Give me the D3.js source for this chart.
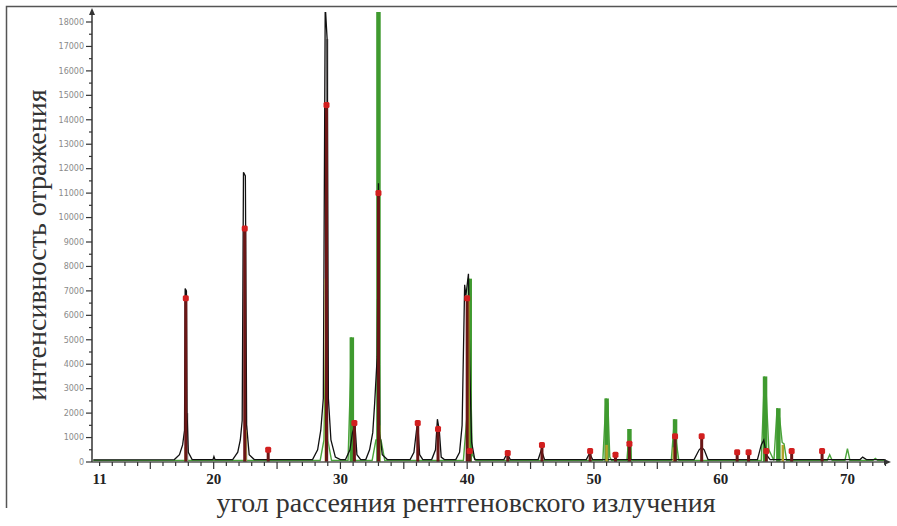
<!DOCTYPE html>
<html>
<head>
<meta charset="utf-8">
<script src="https://cdn.jsdelivr.net/npm/d3@7/dist/d3.min.js"></script>
<style>
  body { margin: 0; background: #fff; }
  svg { display: block; }
</style>
</head>
<body>
<svg id="chart" width="897" height="526"></svg>
<script>
// x ticks that carry labels, y ticks
var x_labels = [11, 20, 30, 40, 50, 60, 70];
var y_labels = d3.range(0, 18001, 1000);

// measured profile (black line): [angle, intensity]
var black_profile = [
	[10.5,90],[16.9,100],[17.3,300],[17.55,700],[17.7,1300],[17.75,7100],[17.85,7000],[17.9,2000],[18.0,400],[18.3,100],
	[19.95,100],[20.02,220],[20.1,100],
	[21.5,100],[21.9,400],[22.1,900],[22.25,1700],[22.35,11850],[22.5,11700],[22.6,1500],[22.8,300],[23.2,100],
	[27.8,100],[28.2,500],[28.45,1300],[28.65,2600],[28.8,18700],[28.95,17300],[29.05,2600],[29.25,900],[29.6,200],[30.0,100],
	[30.4,100],[30.75,500],[30.95,1200],[31.15,1500],[31.3,300],[31.6,100],
	[32.0,100],[32.3,500],[32.55,1200],[32.7,2400],[32.9,4300],[33.0,11400],[33.1,1200],[33.3,300],[33.7,100],
	[35.5,100],[35.8,400],[36.0,1300],[36.1,1600],[36.25,300],[36.5,100],
	[37.2,100],[37.5,500],[37.65,1750],[37.8,1300],[37.95,200],[38.2,100],
	[39.1,100],[39.4,400],[39.6,1500],[39.8,7250],[39.9,6800],[40.1,7700],[40.2,4000],[40.35,800],[40.6,100],
	[42.9,100],[43.15,350],[43.4,100],
	[45.6,100],[45.85,500],[46.1,100],
	[49.4,100],[49.65,350],[49.9,100],
	[57.9,100],[58.3,500],[58.5,600],[58.7,500],[59.0,100],
	[62.9,100],[63.2,700],[63.4,900],[63.6,300],[63.9,100],
	[71.0,100],[71.2,200],[71.5,100],[73.0,100]
];

// second pattern (green line)
var green_profile = [
	[10.5,60],[28.4,60],[28.7,900],[28.85,5300],[29.0,900],[29.3,60],
	[30.6,60],[30.8,3500],[30.85,5100],[30.95,3500],[31.05,200],[31.2,60],
	[32.5,60],[32.8,900],[33.2,900],[33.5,60],
	[39.7,60],[40.0,2000],[40.15,7500],[40.25,4100],[40.4,300],[40.7,60],
	[50.7,60],[50.95,2600],[51.1,2400],[51.25,200],[51.4,60],
	[52.6,60],[52.8,1350],[52.95,100],[53.1,60],
	[56.1,60],[56.35,1750],[56.5,800],[56.7,60],
	[63.2,60],[63.45,3500],[63.6,2700],[63.8,500],[64.2,60],[64.45,2200],[64.65,1800],[64.85,800],[65.0,740],[65.2,60],
	[68.4,60],[68.6,300],[68.8,60],[69.8,60],[70.0,550],[70.2,60],
	[72.0,60],[72.2,150],[72.4,60],[73.0,60]
];

// stick patterns of the phases
var green_sticks = [[33.0, 18700], [30.9, 5100], [40.2, 7500], [51.0, 2600], [52.8, 1350], [56.4, 1750], [63.5, 3500], [64.55, 2200]];
var gray_sticks = [[17.9, 2000], [28.95, 17300], [22.55, 1500]];
var olive_sticks = [[28.85, 7500], [22.5, 1300], [17.8, 600], [33.05, 1500], [40.1, 6800], [51.0, 700], [52.8, 700], [56.3, 600], [64.9, 700]];
var red_sticks = [
	[17.8, 6700], [22.45, 9550], [28.9, 14600], [33.0, 11000], [31.1, 1600], [36.1, 1600], [37.7, 1350], [40.0, 6700],
	[24.3, 500], [43.2, 370], [45.9, 700], [49.7, 450], [51.7, 300], [52.8, 750], [56.4, 1050], [58.5, 1050],
	[61.3, 400], [62.2, 400], [63.6, 450], [65.6, 450], [68.0, 450], [40.2, 450]
];

var svg = d3.select('#chart');

var x = d3.scaleLinear().domain([10.4, 73.2]).range([92, 888]);
var y = d3.scaleLinear().domain([0, 18000]).range([462, 22]);

// frame (left and top only)
svg.append('path')
	.attr('d', 'M6.5,508 V6.5 H897')
	.attr('fill', 'none')
	.attr('stroke', '#555')
	.attr('stroke-width', 1.5);

svg.append('clipPath').attr('id', 'plot-clip')
	.append('rect').attr('x', 92).attr('y', 12).attr('width', 796).attr('height', 452);

var plot = svg.append('g').attr('clip-path', 'url(#plot-clip)');

var line = d3.line()
	.x(function(d) { return x(d[0]); })
	.y(function(d) { return y(d[1]); });

plot.append('path')
	.datum(green_profile)
	.attr('d', line)
	.attr('fill', 'none')
	.attr('stroke', '#4aa33a')
	.attr('stroke-width', 1.4);

function draw_sticks(data, width, color){
	plot.append('g').selectAll('rect')
	.data(data)
	.enter().append('rect')
	.attr('x', function(d) { return x(d[0]) - width / 2; })
	.attr('y', function(d) { return y(d[1]); })
	.attr('width', width)
	.attr('height', function(d) { return y(0) - y(d[1]); })
	.attr('fill', color);
}

draw_sticks(green_sticks, 4.5, '#3f9a2f');
draw_sticks(gray_sticks, 2.5, '#a09a9a');

plot.append('path')
	.datum(black_profile)
	.attr('d', line)
	.attr('fill', 'none')
	.attr('stroke', '#111')
	.attr('stroke-width', 1.3);

draw_sticks(olive_sticks, 2.5, '#b3a22a');
draw_sticks(red_sticks, 3, '#6a1616');

plot.append('g').selectAll('rect')
	.data(red_sticks)
	.enter().append('rect')
	.attr('x', function(d) { return x(d[0]) - 3; })
	.attr('y', function(d) { return y(d[1]) - 3; })
	.attr('width', 6)
	.attr('height', 6)
	.attr('rx', 1.5)
	.attr('fill', '#d21f1f');

// y axis
var y_axis = svg.append('g').attr('class', 'y-axis');
y_axis.append('line')
	.attr('x1', 92).attr('x2', 92).attr('y1', y(0)).attr('y2', 12)
	.attr('stroke', '#333').attr('stroke-width', 1.5);
y_axis.append('path')
	.attr('d', 'M92,8 L89,15 L95,15 Z')
	.attr('fill', '#333');
y_axis.selectAll('line.minor')
	.data(d3.range(500, 18000, 1000))
	.enter().append('line')
	.attr('class', 'minor')
	.attr('x1', 89).attr('x2', 92)
	.attr('y1', function(d) { return y(d); }).attr('y2', function(d) { return y(d); })
	.attr('stroke', '#333').attr('stroke-width', 1.2);
y_axis.selectAll('line.major')
	.data(y_labels)
	.enter().append('line')
	.attr('class', 'major')
	.attr('x1', 86).attr('x2', 92)
	.attr('y1', function(d) { return y(d); }).attr('y2', function(d) { return y(d); })
	.attr('stroke', '#333').attr('stroke-width', 1.2);
y_axis.selectAll('text')
	.data(y_labels)
	.enter().append('text')
	.attr('x', 84)
	.attr('y', function(d) { return y(d); })
	.attr('dy', '0.35em')
	.attr('text-anchor', 'end')
	.attr('font-family', 'DejaVu Sans')
	.attr('font-size', 8)
	.attr('fill', '#8a8a8a')
	.text(function(d) { return d; });

// x axis
var x_axis = svg.append('g').attr('class', 'x-axis');
x_axis.append('line')
	.attr('x1', 92).attr('x2', 886).attr('y1', y(0)).attr('y2', y(0))
	.attr('stroke', '#555').attr('stroke-width', 1.6);
x_axis.append('path')
	.attr('d', 'M891,462 L884,459 L884,465 Z')
	.attr('fill', '#333');
x_axis.selectAll('line.tick')
	.data(d3.range(11, 74, 1))
	.enter().append('line')
	.attr('class', 'tick')
	.attr('x1', function(d) { return x(d); }).attr('x2', function(d) { return x(d); })
	.attr('y1', y(0))
	.attr('y2', function(d) { return d % 5 == 0 ? y(0) + 7 : y(0) + 4; })
	.attr('stroke', '#333').attr('stroke-width', 1.2);
x_axis.selectAll('text')
	.data(x_labels)
	.enter().append('text')
	.attr('x', function(d) { return x(d); })
	.attr('y', 484)
	.attr('text-anchor', 'middle')
	.attr('font-family', 'Liberation Serif')
	.attr('font-weight', 'bold')
	.attr('font-size', 15)
	.attr('fill', '#222')
	.text(function(d) { return d; });

// axis titles
svg.append('text')
	.attr('x', 466)
	.attr('y', 512)
	.attr('text-anchor', 'middle')
	.attr('font-family', 'Liberation Serif')
	.attr('font-size', 28)
	.attr('fill', '#333')
	.text('угол рассеяния рентгеновского излучения');

svg.append('text')
	.attr('transform', 'translate(46,245) rotate(-90)')
	.attr('text-anchor', 'middle')
	.attr('font-family', 'Liberation Serif')
	.attr('font-size', 28)
	.attr('fill', '#333')
	.text('интенсивность отражения');
</script>
</body>
</html>
